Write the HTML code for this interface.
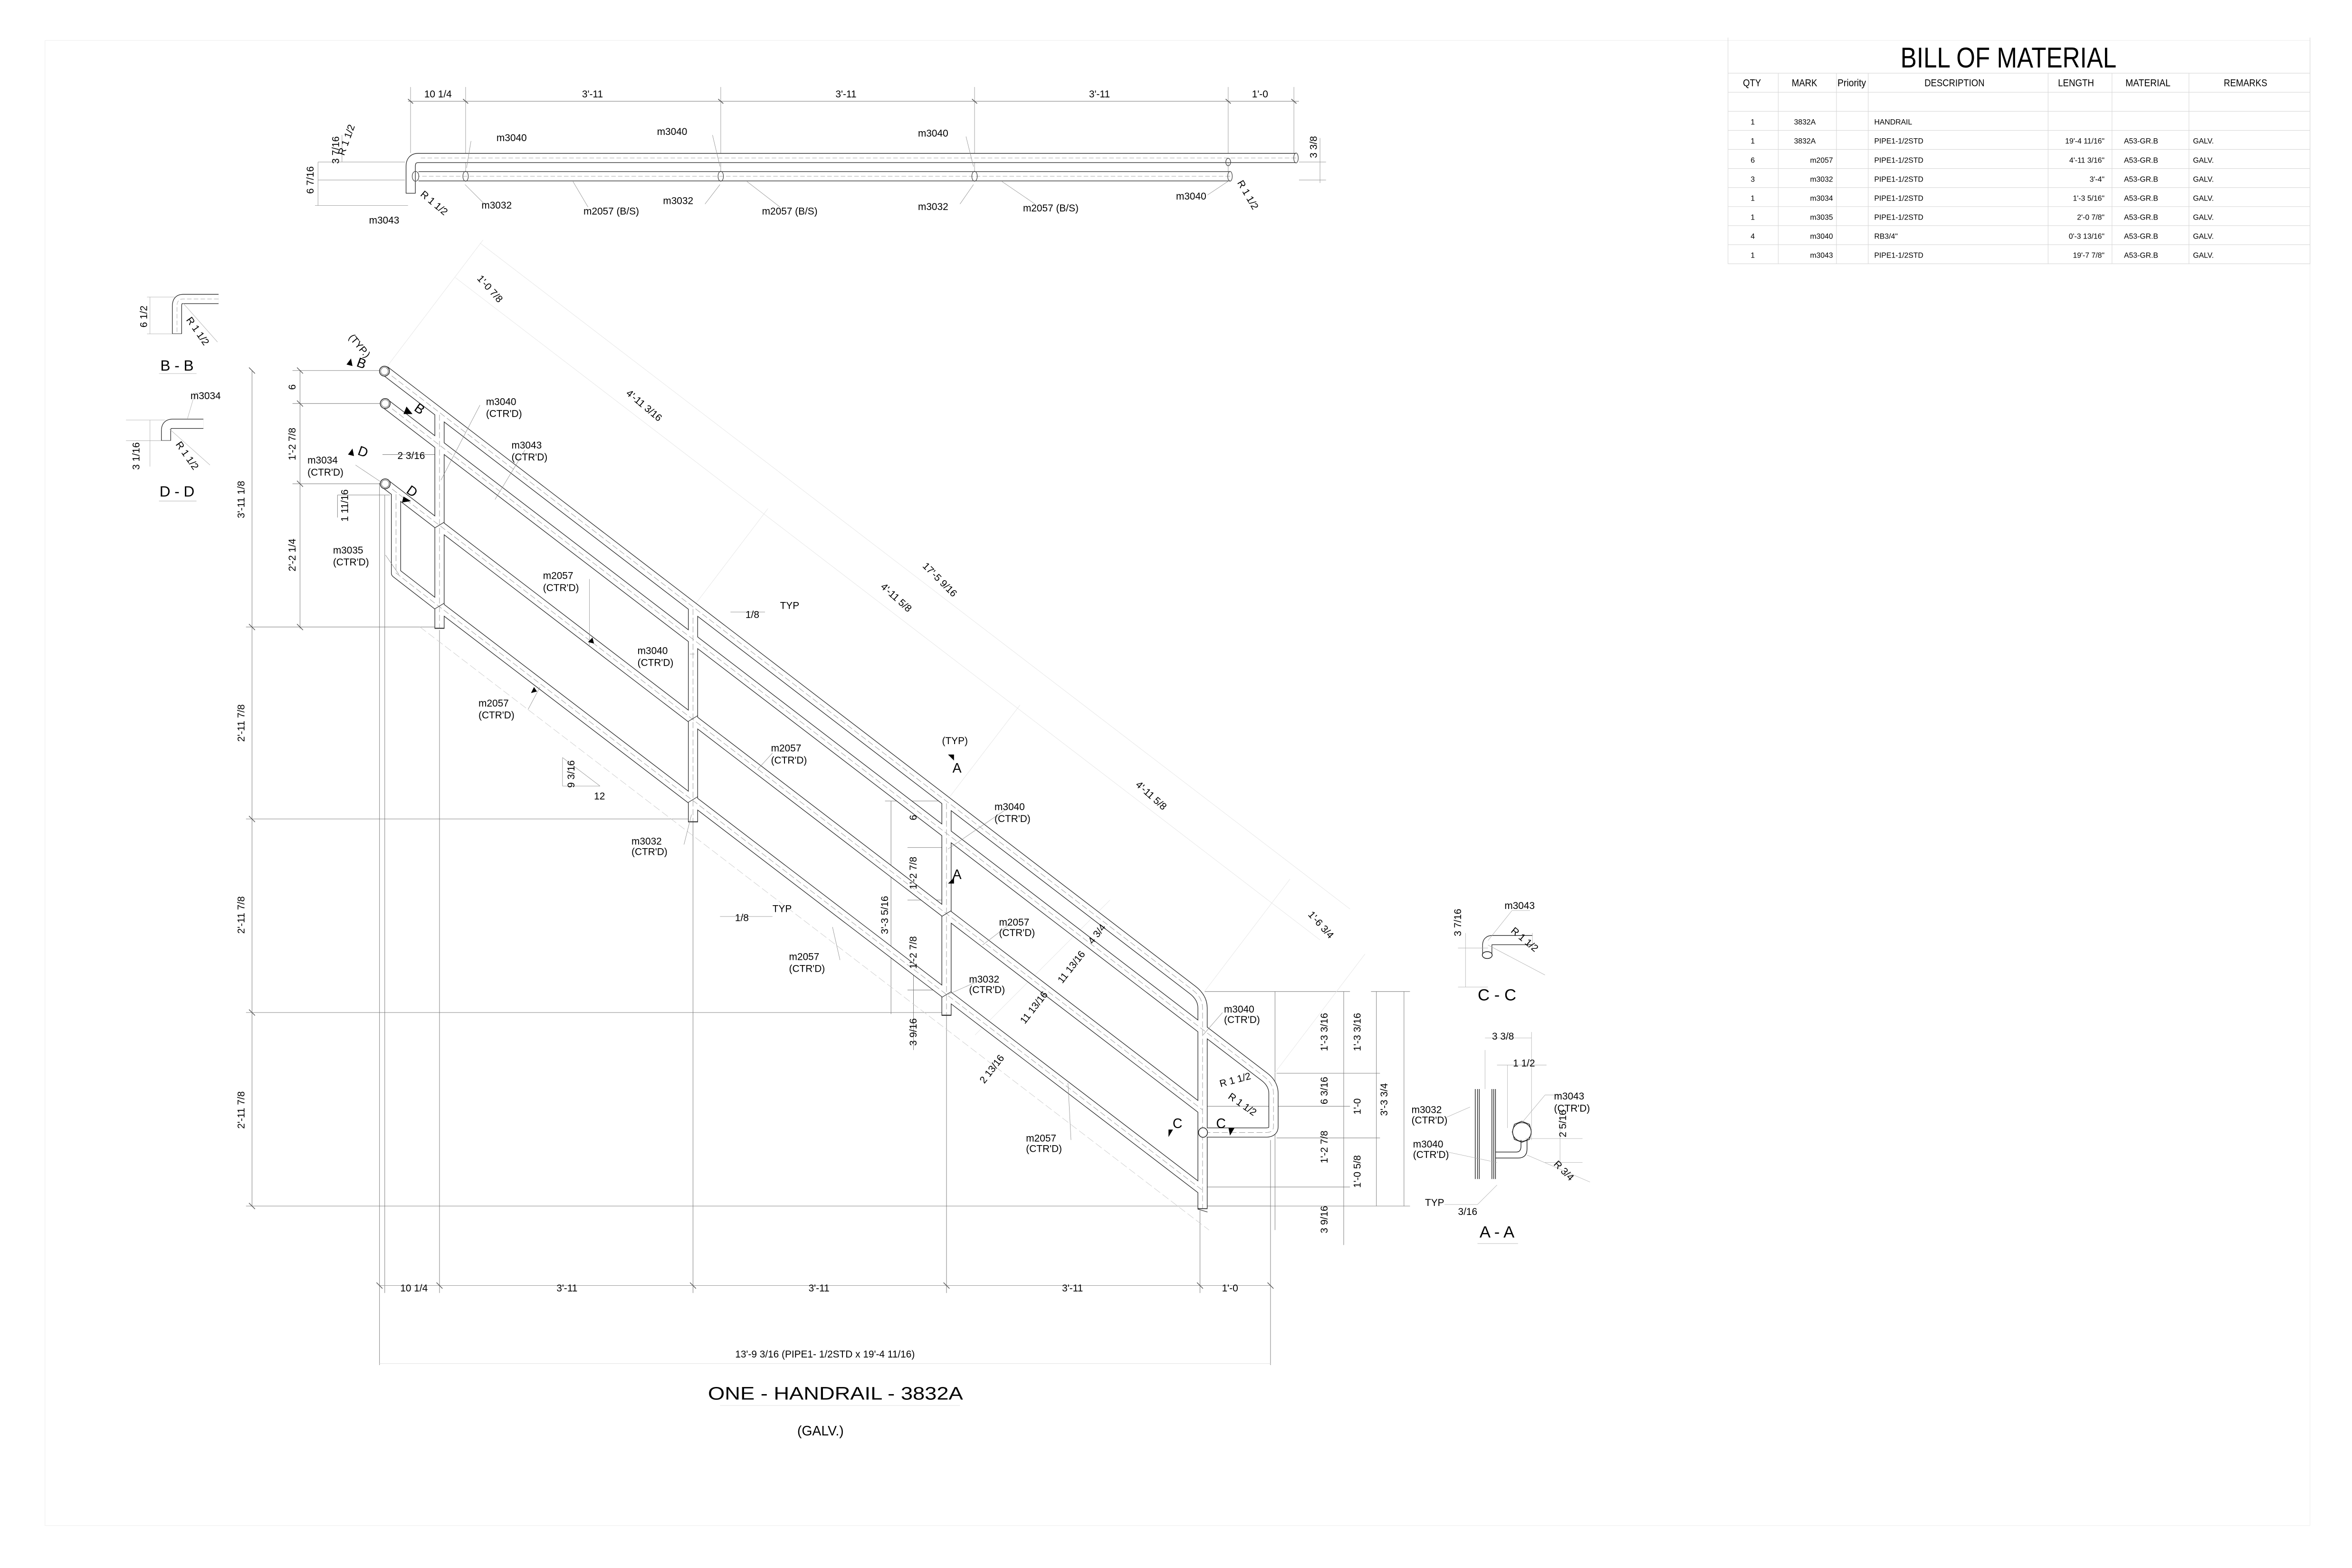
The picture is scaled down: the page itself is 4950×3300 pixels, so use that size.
<!DOCTYPE html>
<html><head><meta charset="utf-8"><style>
html,body{margin:0;padding:0;background:#fff;}
svg{display:block;}
text{font-family:"Liberation Sans",sans-serif;fill:#000;}
</style></head><body>
<svg xmlns="http://www.w3.org/2000/svg" width="4950" height="3300" viewBox="0 0 1568 1045.3">
<rect x="0" y="0" width="1568" height="1045.3" fill="#fff"/>
<rect x="30" y="27" width="1510" height="990" fill="none" stroke="#f0f0f0" stroke-width="0.4"/>

<!-- ===== BILL OF MATERIAL ===== -->
<g stroke="#d8d8d8" stroke-width="0.35" fill="none">
<line x1="1152" y1="48.8" x2="1540" y2="48.8"/>
<line x1="1152" y1="61.5" x2="1540" y2="61.5"/>
<line x1="1152" y1="74.2" x2="1540" y2="74.2"/>
<line x1="1152" y1="86.9" x2="1540" y2="86.9"/>
<line x1="1152" y1="99.6" x2="1540" y2="99.6"/>
<line x1="1152" y1="112.3" x2="1540" y2="112.3"/>
<line x1="1152" y1="125" x2="1540" y2="125"/>
<line x1="1152" y1="137.7" x2="1540" y2="137.7"/>
<line x1="1152" y1="150.4" x2="1540" y2="150.4"/>
<line x1="1152" y1="163.1" x2="1540" y2="163.1"/>
<line x1="1152" y1="175.8" x2="1540" y2="175.8"/>
<line x1="1152" y1="25" x2="1152" y2="176"/>
<line x1="1185.5" y1="48.8" x2="1185.5" y2="176"/>
<line x1="1224.3" y1="48.8" x2="1224.3" y2="176"/>
<line x1="1245.5" y1="48.8" x2="1245.5" y2="176"/>
<line x1="1365.4" y1="48.8" x2="1365.4" y2="176"/>
<line x1="1408" y1="48.8" x2="1408" y2="176"/>
<line x1="1459.3" y1="48.8" x2="1459.3" y2="176"/>
<line x1="1540" y1="25" x2="1540" y2="176"/>
</g>
<text x="1267" y="45" font-size="19" textLength="144" lengthAdjust="spacingAndGlyphs">BILL OF MATERIAL</text>
<g font-size="6.6" text-anchor="middle">
<text x="1168" y="57.5" textLength="12" lengthAdjust="spacingAndGlyphs">QTY</text>
<text x="1203" y="57.5" textLength="17" lengthAdjust="spacingAndGlyphs">MARK</text>
<text x="1234.5" y="57.5" textLength="19" lengthAdjust="spacingAndGlyphs">Priority</text>
<text x="1303" y="57.5" textLength="40" lengthAdjust="spacingAndGlyphs">DESCRIPTION</text>
<text x="1384" y="57.5" textLength="24" lengthAdjust="spacingAndGlyphs">LENGTH</text>
<text x="1432" y="57.5" textLength="30" lengthAdjust="spacingAndGlyphs">MATERIAL</text>
<text x="1497" y="57.5" textLength="29" lengthAdjust="spacingAndGlyphs">REMARKS</text>
</g>
<g font-size="5">
<g text-anchor="middle">
<text x="1168.5" y="83">1</text><text x="1168.5" y="95.7">1</text><text x="1168.5" y="108.4">6</text><text x="1168.5" y="121.1">3</text><text x="1168.5" y="133.8">1</text><text x="1168.5" y="146.5">1</text><text x="1168.5" y="159.2">4</text><text x="1168.5" y="171.9">1</text>
</g>
<text x="1196" y="83">3832A</text><text x="1196" y="95.7">3832A</text>
<g text-anchor="end">
<text x="1222" y="108.4">m2057</text><text x="1222" y="121.1">m3032</text><text x="1222" y="133.8">m3034</text><text x="1222" y="146.5">m3035</text><text x="1222" y="159.2">m3040</text><text x="1222" y="171.9">m3043</text>
</g>
<text x="1249.5" y="83">HANDRAIL</text>
<text x="1249.5" y="95.7">PIPE1-1/2STD</text><text x="1249.5" y="108.4">PIPE1-1/2STD</text><text x="1249.5" y="121.1">PIPE1-1/2STD</text><text x="1249.5" y="133.8">PIPE1-1/2STD</text><text x="1249.5" y="146.5">PIPE1-1/2STD</text><text x="1249.5" y="159.2">RB3/4"</text><text x="1249.5" y="171.9">PIPE1-1/2STD</text>
<g text-anchor="end">
<text x="1403" y="95.7">19'-4 11/16"</text><text x="1403" y="108.4">4'-11 3/16"</text><text x="1403" y="121.1">3'-4"</text><text x="1403" y="133.8">1'-3 5/16"</text><text x="1403" y="146.5">2'-0 7/8"</text><text x="1403" y="159.2">0'-3 13/16"</text><text x="1403" y="171.9">19'-7 7/8"</text>
</g>
<text x="1416" y="95.7">A53-GR.B</text><text x="1416" y="108.4">A53-GR.B</text><text x="1416" y="121.1">A53-GR.B</text><text x="1416" y="133.8">A53-GR.B</text><text x="1416" y="146.5">A53-GR.B</text><text x="1416" y="159.2">A53-GR.B</text><text x="1416" y="171.9">A53-GR.B</text>
<text x="1462" y="95.7">GALV.</text><text x="1462" y="108.4">GALV.</text><text x="1462" y="121.1">GALV.</text><text x="1462" y="133.8">GALV.</text><text x="1462" y="146.5">GALV.</text><text x="1462" y="159.2">GALV.</text><text x="1462" y="171.9">GALV.</text>
</g>

<!-- ===== PLAN VIEW (top) ===== -->
<g stroke="#999" stroke-width="0.3" fill="none">
<line x1="272" y1="67.5" x2="866" y2="67.5" stroke="#777"/>
<line x1="273.7" y1="58" x2="273.7" y2="102"/>
<line x1="310.4" y1="58" x2="310.4" y2="115"/>
<line x1="480.5" y1="58" x2="480.5" y2="115"/>
<line x1="649.7" y1="58" x2="649.7" y2="115"/>
<line x1="818.8" y1="58" x2="818.8" y2="115"/>
<line x1="862.6" y1="58" x2="862.6" y2="102"/>
<line x1="212" y1="108" x2="270" y2="108"/>
<line x1="212" y1="120" x2="270" y2="120"/>
<line x1="210" y1="137" x2="272" y2="137"/>
<line x1="228" y1="90" x2="228" y2="108"/>
<line x1="212" y1="108" x2="212" y2="137"/>
<line x1="866" y1="108" x2="884" y2="108"/>
<line x1="866" y1="120" x2="884" y2="120"/>
<line x1="880" y1="92" x2="880" y2="122"/>
</g>
<g stroke="#555" stroke-width="0.5">
<line x1="272" y1="66" x2="275.4" y2="69"/><line x1="308.7" y1="66" x2="312.1" y2="69"/><line x1="478.8" y1="66" x2="482.2" y2="69"/><line x1="648" y1="66" x2="651.4" y2="69"/><line x1="817.1" y1="66" x2="820.5" y2="69"/><line x1="860.9" y1="66" x2="864.3" y2="69"/>
</g>
<g font-size="6.6" text-anchor="middle">
<text x="292" y="65">10 1/4</text><text x="395" y="65">3'-11</text><text x="564" y="65">3'-11</text><text x="733" y="65">3'-11</text><text x="840" y="65">1'-0</text>
</g>
<g fill="none" stroke-linecap="butt">
<path d="M864,105.3 L279,105.3 Q273.8,105.3 273.8,111 L273.8,129" stroke="#222" stroke-width="6.6"/>
<path d="M864,105.3 L279,105.3 Q273.8,105.3 273.8,111 L273.8,128.6" stroke="#fff" stroke-width="5.8"/>
<path d="M864,105.3 L279,105.3" stroke="#aaa" stroke-width="0.3" stroke-dasharray="3,1.5"/>
<path d="M820,117.5 L279,117.5" stroke="#222" stroke-width="6.6"/>
<path d="M820,117.5 L279,117.5" stroke="#fff" stroke-width="5.8"/>
<path d="M820,117.5 L279,117.5" stroke="#aaa" stroke-width="0.3" stroke-dasharray="3,1.5"/>
</g>
<g fill="none" stroke="#444" stroke-width="0.4">
<ellipse cx="864" cy="105.3" rx="1.5" ry="3.3"/>
<ellipse cx="820" cy="117.5" rx="1.5" ry="3.3"/>
<ellipse cx="277" cy="117.5" rx="2.2" ry="3.3"/>
<ellipse cx="310.4" cy="117.5" rx="1.8" ry="3.3"/>
<ellipse cx="480.5" cy="117.5" rx="1.8" ry="3.3"/>
<ellipse cx="649.7" cy="117.5" rx="1.8" ry="3.3"/>
<ellipse cx="818.8" cy="108" rx="1.6" ry="2.5"/>
</g>
<g stroke="#888" stroke-width="0.25" fill="none">
<line x1="314" y1="94" x2="311" y2="112"/><line x1="475" y1="90" x2="480" y2="111"/><line x1="644" y1="91" x2="649" y2="111"/>
<line x1="310" y1="123" x2="323" y2="136"/><line x1="480" y1="123" x2="470" y2="136"/><line x1="649" y1="123" x2="640" y2="136"/>
<line x1="382" y1="121" x2="392" y2="138"/><line x1="498" y1="121" x2="520" y2="138"/><line x1="668" y1="121" x2="690" y2="136"/>
<line x1="820" y1="120" x2="805" y2="130"/>
</g>
<g font-size="6.6">
<text x="331" y="94">m3040</text><text x="438" y="90">m3040</text><text x="612" y="91">m3040</text>
<text x="246" y="149">m3043</text>
<text x="321" y="139">m3032</text><text x="442" y="136">m3032</text><text x="612" y="140">m3032</text>
<text x="389" y="143">m2057  (B/S)</text><text x="508" y="143">m2057  (B/S)</text><text x="682" y="141">m2057  (B/S)</text>
<text x="784" y="133">m3040</text>
<text transform="translate(226,100) rotate(-90)" text-anchor="middle">3 7/16</text>
<text transform="translate(209,120) rotate(-90)" text-anchor="middle">6 7/16</text>
<text transform="translate(878,98) rotate(-90)" text-anchor="middle">3 3/8</text>
<text transform="translate(233,94) rotate(-70)" text-anchor="middle">R 1 1/2</text>
<text transform="translate(288,137) rotate(40)" text-anchor="middle">R 1 1/2</text>
<text transform="translate(830,131) rotate(60)" text-anchor="middle">R 1 1/2</text>
</g>

<!-- ===== SECTIONS B-B / D-D ===== -->
<g fill="none">
<path d="M145.7,199.3 L122,199.3 Q118,199.3 118,204 L118,222.6" stroke="#222" stroke-width="6.6"/>
<path d="M145.7,199.3 L122,199.3 Q118,199.3 118,204 L118,222.3" stroke="#fff" stroke-width="5.8"/>
<path d="M145.7,199.3 L122,199.3 Q118,199.3 118,204 L118,222" stroke="#aaa" stroke-width="0.3" stroke-dasharray="3,1.5"/>
<path d="M135.6,282.5 L115,282.5 Q110.7,282.5 110.7,287 L110.7,293.8" stroke="#222" stroke-width="6.6"/>
<path d="M135.6,282.5 L115,282.5 Q110.7,282.5 110.7,287 L110.7,293.5" stroke="#fff" stroke-width="5.8"/>
</g>
<g stroke="#aaa" stroke-width="0.25">
<line x1="98" y1="198" x2="117" y2="198"/><line x1="98" y1="222.6" x2="115" y2="222.6"/><line x1="100" y1="198" x2="100" y2="222.6"/>
<line x1="84" y1="280" x2="110" y2="280"/><line x1="84" y1="293.8" x2="108" y2="293.8"/><line x1="100" y1="280" x2="100" y2="311"/>
<line x1="122" y1="202" x2="145" y2="228"/><line x1="113" y1="286" x2="140" y2="310"/>
<line x1="125" y1="279" x2="130" y2="262"/><line x1="130" y1="262" x2="142" y2="262"/>
<line x1="106" y1="249" x2="131" y2="249"/><line x1="106" y1="334" x2="131" y2="334"/>
</g>
<g font-size="6.6">
<text transform="translate(98,211) rotate(-90)" text-anchor="middle">6 1/2</text>
<text transform="translate(93,304) rotate(-90)" text-anchor="middle">3 1/16</text>
<text transform="translate(130,222) rotate(55)" text-anchor="middle">R 1 1/2</text>
<text transform="translate(123,305) rotate(55)" text-anchor="middle">R 1 1/2</text>
<text x="127" y="266">m3034</text>
</g>
<text x="118" y="247" font-size="10" text-anchor="middle">B - B</text>
<text x="118" y="331" font-size="10" text-anchor="middle">D - D</text>

<!-- ===== ELEVATION: dimension/extension lines ===== -->
<g stroke="#777" stroke-width="0.3" fill="none">
<line x1="168" y1="247" x2="168" y2="804"/>
<line x1="200" y1="247" x2="200" y2="419"/>
<line x1="195" y1="247" x2="254" y2="247"/>
<line x1="195" y1="269" x2="254" y2="269"/>
<line x1="195" y1="322.5" x2="254" y2="322.5"/>
<line x1="225" y1="330" x2="260" y2="330"/>
<line x1="225" y1="330" x2="225" y2="345"/>
<line x1="255" y1="303" x2="290" y2="303"/>
<line x1="164" y1="418" x2="293" y2="418"/>
<line x1="164" y1="546" x2="462" y2="546"/>
<line x1="164" y1="675" x2="631" y2="675"/>
<line x1="164" y1="804" x2="847" y2="804"/>
<line x1="253" y1="322" x2="253" y2="910"/>
<line x1="256.5" y1="330" x2="256.5" y2="862"/>
<line x1="293" y1="420" x2="293" y2="862"/>
<line x1="462" y1="548" x2="462" y2="862"/>
<line x1="631" y1="677" x2="631" y2="862"/>
<line x1="800" y1="807" x2="800" y2="862"/>
<line x1="847" y1="760" x2="847" y2="910"/>
<line x1="253" y1="857" x2="847" y2="857" stroke="#999"/>
<line x1="253" y1="909" x2="847" y2="909" stroke="#ddd"/>
<line x1="594" y1="534" x2="594" y2="676"/>
<line x1="590" y1="534" x2="631" y2="534"/>
<line x1="605" y1="565" x2="631" y2="565"/>
<line x1="605" y1="600" x2="631" y2="600"/>
<line x1="605" y1="660" x2="631" y2="660"/>
<line x1="609" y1="640" x2="609" y2="700"/>
<line x1="803" y1="661" x2="900" y2="661"/>
<line x1="850" y1="661" x2="850" y2="820"/>
<line x1="851" y1="715.5" x2="920" y2="715.5"/>
<line x1="803" y1="737.5" x2="900" y2="737.5"/>
<line x1="851" y1="758.6" x2="920" y2="758.6"/>
<line x1="803" y1="791.3" x2="900" y2="791.3"/>
<line x1="803" y1="804" x2="940" y2="804"/>
<line x1="895.8" y1="661" x2="895.8" y2="830"/>
<line x1="917.6" y1="661" x2="917.6" y2="804"/>
<line x1="936" y1="661" x2="936" y2="804"/>
<line x1="914" y1="661" x2="940" y2="661"/>
</g>
<g stroke="#e6e6e6" stroke-width="0.3" fill="none">
<line x1="303.5" y1="185" x2="880" y2="626.6"/>
<line x1="320" y1="162" x2="900" y2="606"/>
<line x1="256" y1="247" x2="322" y2="160"/>
<line x1="462" y1="404.8" x2="512" y2="339"/>
<line x1="631" y1="534" x2="680" y2="470"/>
<line x1="803" y1="661" x2="860" y2="586"/>
<line x1="850" y1="715" x2="910" y2="636"/>
<line x1="650" y1="690" x2="740" y2="600"/>
</g>
<g stroke="#555" stroke-width="0.45">
<line x1="166" y1="245" x2="170" y2="249"/><line x1="166" y1="416" x2="170" y2="420"/><line x1="166" y1="544" x2="170" y2="548"/><line x1="166" y1="673" x2="170" y2="677"/><line x1="166" y1="802" x2="170" y2="806"/>
<line x1="198" y1="245" x2="202" y2="249"/><line x1="198" y1="267" x2="202" y2="271"/><line x1="198" y1="320.5" x2="202" y2="324.5"/><line x1="198" y1="416" x2="202" y2="420"/>
<line x1="251" y1="855" x2="255" y2="859"/><line x1="291" y1="855" x2="295" y2="859"/><line x1="460" y1="855" x2="464" y2="859"/><line x1="629" y1="855" x2="633" y2="859"/><line x1="798" y1="855" x2="802" y2="859"/><line x1="845" y1="855" x2="849" y2="859"/>
</g>

<!-- ===== ELEVATION: pipes ===== -->
<g fill="none" stroke-linejoin="round">
<g stroke="#222" stroke-width="6.6">
<path d="M293,275.3 L293,419"/><path d="M462,404.8 L462,548"/><path d="M631,534.3 L631,677"/>
<path d="M256.5,247 L795,659.9 Q801.7,665 801.7,672 L801.7,806"/>
<path d="M256.8,269 L843,717.9 Q849,722.5 849,729 L849,751 Q849,755 844,755 L801.7,755"/>
<path d="M256.8,322.5 L801.7,739.9"/>
<path d="M264,329 L264,382 L293,404.5 L801.7,793.5"/>
</g>
<g stroke="#fff" stroke-width="5.8">
<path d="M293,276.5 L293,418.5"/><path d="M462,406 L462,547.5"/><path d="M631,535.5 L631,676.5"/>
<path d="M256.5,247 L795,659.9 Q801.7,665 801.7,672 L801.7,805.5"/>
<path d="M256.8,269 L843,717.9 Q849,722.5 849,729 L849,751 Q849,755 844,755 L801.7,755"/>
<path d="M256.8,322.5 L801.7,739.9"/>
<path d="M264,329.5 L264,382 L293,404.5 L801.7,793.5"/>
</g>
<g stroke="#999" stroke-width="0.3" stroke-dasharray="4,1.8">
<path d="M293,276.5 L293,418.5"/><path d="M462,406 L462,547.5"/><path d="M631,535.5 L631,676.5"/>
<path d="M256.5,247 L795,659.9 Q801.7,665 801.7,672 L801.7,805.5"/>
<path d="M256.8,269 L843,717.9 Q849,722.5 849,729 L849,751 Q849,755 844,755 L801.7,755"/>
<path d="M256.8,322.5 L801.7,739.9"/>
<path d="M264,329.5 L264,382 L293,404.5 L801.7,793.5"/>
</g>
<g stroke="#333" stroke-width="0.4">
<line x1="289.7" y1="419" x2="296.3" y2="419"/><line x1="458.7" y1="548" x2="465.3" y2="548"/><line x1="627.7" y1="677" x2="634.3" y2="677"/><line x1="798.4" y1="806" x2="805" y2="808"/>
<line x1="289.7" y1="352" x2="296.3" y2="348"/><line x1="289.7" y1="406" x2="296.3" y2="402"/>
<line x1="458.7" y1="481" x2="465.3" y2="477"/><line x1="458.7" y1="535" x2="465.3" y2="531"/>
<line x1="627.7" y1="611" x2="634.3" y2="607"/><line x1="627.7" y1="665" x2="634.3" y2="661"/>
</g>
<path d="M280,418 L806,820" stroke="#ccc" stroke-width="0.3" stroke-dasharray="5,2"/>
<g fill="#fff" stroke="#222" stroke-width="0.5">
<circle cx="256.3" cy="247.4" r="3.3"/><circle cx="256.8" cy="269" r="3.3"/><circle cx="256.8" cy="322.5" r="3.3"/>
<ellipse cx="802" cy="755" rx="3" ry="3.2"/>
</g>
<g fill="none" stroke="#555" stroke-width="0.3">
<circle cx="256.3" cy="247.4" r="2.5"/><circle cx="256.8" cy="269" r="2.5"/><circle cx="256.8" cy="322.5" r="2.5"/>
</g>
</g>

<g stroke="#888" stroke-width="0.25" fill="none">
<line x1="320" y1="270" x2="294" y2="320"/><line x1="350" y1="300" x2="330" y2="333"/>
<line x1="237" y1="310" x2="255" y2="322"/><line x1="257" y1="370" x2="266" y2="383"/>
<line x1="393" y1="386" x2="393" y2="430"/><line x1="460" y1="436" x2="463" y2="436"/>
<line x1="352" y1="473" x2="360" y2="458"/><line x1="515" y1="502" x2="505" y2="513"/>
<line x1="456" y1="563" x2="461" y2="543"/><line x1="670" y1="540" x2="632" y2="566"/>
<line x1="672" y1="617" x2="655" y2="630"/><line x1="650" y1="655" x2="632" y2="663"/>
<line x1="560" y1="640" x2="555" y2="618"/><line x1="714" y1="760" x2="712" y2="722"/>
<line x1="815" y1="675" x2="802" y2="690"/>
<line x1="487" y1="408" x2="510" y2="408"/><line x1="480" y1="611" x2="515" y2="611"/>
<line x1="375" y1="505" x2="375" y2="524"/><line x1="375" y1="524" x2="400" y2="524"/><line x1="375" y1="505" x2="400" y2="524"/>
</g>

<g font-size="6.6">
<text x="324" y="270">m3040</text><text x="324" y="278">(CTR'D)</text>
<text x="341" y="299">m3043</text><text x="341" y="307">(CTR'D)</text>
<text x="205" y="309">m3034</text><text x="205" y="317">(CTR'D)</text>
<text x="222" y="369">m3035</text><text x="222" y="377">(CTR'D)</text>
<text x="362" y="386">m2057</text><text x="362" y="394">(CTR'D)</text>
<text x="425" y="436">m3040</text><text x="425" y="444">(CTR'D)</text>
<text x="319" y="471">m2057</text><text x="319" y="479">(CTR'D)</text>
<text x="514" y="501">m2057</text><text x="514" y="509">(CTR'D)</text>
<text x="421" y="563">m3032</text><text x="421" y="570">(CTR'D)</text>
<text x="663" y="540">m3040</text><text x="663" y="548">(CTR'D)</text>
<text x="666" y="617">m2057</text><text x="666" y="624">(CTR'D)</text>
<text x="646" y="655">m3032</text><text x="646" y="662">(CTR'D)</text>
<text x="526" y="640">m2057</text><text x="526" y="648">(CTR'D)</text>
<text x="684" y="761">m2057</text><text x="684" y="768">(CTR'D)</text>
<text x="816" y="675">m3040</text><text x="816" y="682">(CTR'D)</text>
<text x="628" y="496">(TYP)</text>
<text x="497" y="412">1/8</text><text x="520" y="406">TYP</text>
<text x="490" y="614">1/8</text><text x="515" y="608">TYP</text>
<text x="396" y="533">12</text>
<text transform="translate(383,516) rotate(-90)" text-anchor="middle">9 3/16</text>
<text transform="translate(163,333) rotate(-90)" text-anchor="middle">3'-11 1/8</text>
<text transform="translate(163,482) rotate(-90)" text-anchor="middle">2'-11 7/8</text>
<text transform="translate(163,610) rotate(-90)" text-anchor="middle">2'-11 7/8</text>
<text transform="translate(163,740) rotate(-90)" text-anchor="middle">2'-11 7/8</text>
<text transform="translate(197,258) rotate(-90)" text-anchor="middle">6</text>
<text transform="translate(197,296) rotate(-90)" text-anchor="middle">1'-2 7/8</text>
<text transform="translate(197,370) rotate(-90)" text-anchor="middle">2'-2 1/4</text>
<text transform="translate(232,337) rotate(-90)" text-anchor="middle">1 11/16</text>
<text x="265" y="306">2 3/16</text>
<text transform="translate(611,545) rotate(-90)" text-anchor="middle">6</text>
<text transform="translate(611,582) rotate(-90)" text-anchor="middle">1'-2 7/8</text>
<text transform="translate(592,610) rotate(-90)" text-anchor="middle">3'-3 5/16</text>
<text transform="translate(611,635) rotate(-90)" text-anchor="middle">1'-2 7/8</text>
<text transform="translate(611,688) rotate(-90)" text-anchor="middle">3 9/16</text>
<text transform="translate(885,688) rotate(-90)" text-anchor="middle">1'-3 3/16</text>
<text transform="translate(907,688) rotate(-90)" text-anchor="middle">1'-3 3/16</text>
<text transform="translate(885,727) rotate(-90)" text-anchor="middle">6 3/16</text>
<text transform="translate(907,737.6) rotate(-90)" text-anchor="middle">1'-0</text>
<text transform="translate(925,733) rotate(-90)" text-anchor="middle">3'-3 3/4</text>
<text transform="translate(885,764.6) rotate(-90)" text-anchor="middle">1'-2 7/8</text>
<text transform="translate(907,781) rotate(-90)" text-anchor="middle">1'-0 5/8</text>
<text transform="translate(885,813) rotate(-90)" text-anchor="middle">3 9/16</text>
<text transform="translate(428,272) rotate(40)" text-anchor="middle">4'-11 3/16</text>
<text transform="translate(625,388) rotate(45)" text-anchor="middle">17'-5 9/16</text>
<text transform="translate(596,400) rotate(42)" text-anchor="middle">4'-11 5/8</text>
<text transform="translate(766,532) rotate(42)" text-anchor="middle">4'-11 5/8</text>
<text transform="translate(325,194) rotate(48)" text-anchor="middle">1'-0 7/8</text>
<text transform="translate(879,618) rotate(48)" text-anchor="middle">1'-6 3/4</text>
<text transform="translate(733,624) rotate(-52)" text-anchor="middle">4 3/4</text>
<text transform="translate(716,646) rotate(-52)" text-anchor="middle">11 13/16</text>
<text transform="translate(691,673) rotate(-52)" text-anchor="middle">11 13/16</text>
<text transform="translate(663,714) rotate(-52)" text-anchor="middle">2 13/16</text>
<text transform="translate(238,232) rotate(50)" text-anchor="middle">(TYP.)</text>
<text transform="translate(824,722) rotate(-15)" text-anchor="middle">R 1 1/2</text>
<text transform="translate(827,738) rotate(35)" text-anchor="middle">R 1 1/2</text>
</g>
<g font-size="9">
<text transform="translate(240,245) rotate(20)" text-anchor="middle">B</text>
<text transform="translate(278,275) rotate(35)" text-anchor="middle">B</text>
<text transform="translate(241,304) rotate(20)" text-anchor="middle">D</text>
<text transform="translate(273,330) rotate(35)" text-anchor="middle">D</text>
<text x="638" y="515" text-anchor="middle">A</text>
<text x="638" y="586" text-anchor="middle">A</text>
<text x="785" y="752" text-anchor="middle">C</text>
<text x="814" y="752" text-anchor="middle">C</text>
</g>
<g fill="#000">
<polygon points="231,243 234,239 235,244"/><polygon points="271,271 275,276 269,276"/>
<polygon points="232,303 235,299 236,304"/><polygon points="269,331 274,334 268,335"/>
<polygon points="632,503 636,503 636,507"/><polygon points="632,589 636,589 636,585"/>
<polygon points="779,753 782,753 779,758"/><polygon points="819,752 823,752 820,757"/>
<polygon points="395,425 392,428 396,429"/><polygon points="356,458 354,462 358,461"/>
</g>

<g font-size="6.6" text-anchor="middle">
<text x="276" y="861">10 1/4</text><text x="378" y="861">3'-11</text><text x="546" y="861">3'-11</text><text x="715" y="861">3'-11</text><text x="820" y="861">1'-0</text>
<text x="550" y="905">13'-9 3/16 (PIPE1- 1/2STD x 19'-4  11/16)</text>
</g>
<text x="557" y="933" font-size="12" text-anchor="middle" textLength="170" lengthAdjust="spacingAndGlyphs">ONE - HANDRAIL - 3832A</text>
<line x1="480" y1="937" x2="640" y2="937" stroke="#ddd" stroke-width="0.3"/>
<text x="547" y="957" font-size="9" text-anchor="middle">(GALV.)</text>

<!-- ===== SECTION C-C ===== -->
<g fill="none">
<path d="M1021.6,626.7 L995,626.7 Q991.5,626.7 991.5,630 L991.5,636.7" stroke="#222" stroke-width="6.6"/>
<path d="M1021.6,626.7 L995,626.7 Q991.5,626.7 991.5,630 L991.5,636.7" stroke="#fff" stroke-width="5.8"/>
</g>
<ellipse cx="991.5" cy="636.7" rx="3.3" ry="2.3" fill="#fff" stroke="#222" stroke-width="0.5"/>
<g stroke="#aaa" stroke-width="0.25">
<line x1="977" y1="622" x2="977" y2="658"/><line x1="972" y1="632" x2="992" y2="632"/><line x1="972" y1="658" x2="992" y2="658"/>
<line x1="992" y1="630" x2="1030" y2="650"/><line x1="992" y1="627" x2="1008" y2="607"/><line x1="1008" y1="607" x2="1020" y2="607"/>
<line x1="1021.6" y1="622" x2="1021.6" y2="633"/>
</g>
<text x="1003" y="606" font-size="6.6">m3043</text>
<text transform="translate(974,615) rotate(-90)" text-anchor="middle" font-size="6.6">3 7/16</text>
<text transform="translate(1015,628) rotate(40)" text-anchor="middle" font-size="6.6">R 1 1/2</text>
<text x="998" y="667" font-size="11" text-anchor="middle">C - C</text>

<!-- ===== SECTION A-A ===== -->
<g stroke="#222" stroke-width="0.45" fill="none">
<line x1="983.5" y1="726" x2="983.5" y2="786"/><line x1="985" y1="726" x2="985" y2="786"/><line x1="986.2" y1="726" x2="986.2" y2="786"/>
<line x1="994.6" y1="726" x2="994.6" y2="786"/><line x1="995.8" y1="726" x2="995.8" y2="786"/><line x1="997" y1="726" x2="997" y2="786"/>
<path d="M997,768 L1011,768 Q1014,768 1014,764 L1014,760"/>
<path d="M997,772 L1012,772 Q1018,772 1018,766 L1018,760"/>
<polygon points="1014.6,747.5 1019.6,749.5 1021,754.6 1019.6,759.6 1014.6,761.5 1009.6,759.6 1008.2,754.6 1009.6,749.5"/>
<circle cx="1014.6" cy="754.6" r="6.2"/>
</g>
<g stroke="#aaa" stroke-width="0.25" fill="none">
<line x1="990" y1="700" x2="990" y2="726"/><line x1="990" y1="692" x2="1021" y2="692"/><line x1="1021" y1="688" x2="1021" y2="760"/>
<line x1="998" y1="710" x2="1031" y2="710"/><line x1="1005" y1="710" x2="1005" y2="752"/>
<line x1="1015" y1="748" x2="1030" y2="730"/><line x1="1030" y1="730" x2="1040" y2="730"/>
<line x1="1017" y1="759" x2="1055" y2="759"/><line x1="1040" y1="742" x2="1040" y2="775"/><line x1="1030" y1="775" x2="1055" y2="775"/>
<line x1="1018" y1="770" x2="1060" y2="788"/>
<line x1="964" y1="745" x2="980" y2="738"/><line x1="965" y1="768" x2="998" y2="775"/>
<line x1="963" y1="803" x2="985" y2="803"/><line x1="985" y1="803" x2="998" y2="790"/>
<line x1="985" y1="829" x2="1012" y2="829"/>
</g>
<g font-size="6.6">
<text x="1002" y="693" text-anchor="middle">3 3/8</text>
<text x="1016" y="711" text-anchor="middle">1 1/2</text>
<text x="1036" y="733">m3043</text><text x="1036" y="741">(CTR'D)</text>
<text x="941" y="742">m3032</text><text x="941" y="749">(CTR'D)</text>
<text x="942" y="765">m3040</text><text x="942" y="772">(CTR'D)</text>
<text x="950" y="804">TYP</text>
<text x="972" y="810">3/16</text>
<text transform="translate(1044,749) rotate(-90)" text-anchor="middle">2 5/16</text>
<text transform="translate(1041,782) rotate(45)" text-anchor="middle">R 3/4</text>
</g>
<text x="998" y="825" font-size="11" text-anchor="middle">A - A</text>
</svg>
</body></html>
